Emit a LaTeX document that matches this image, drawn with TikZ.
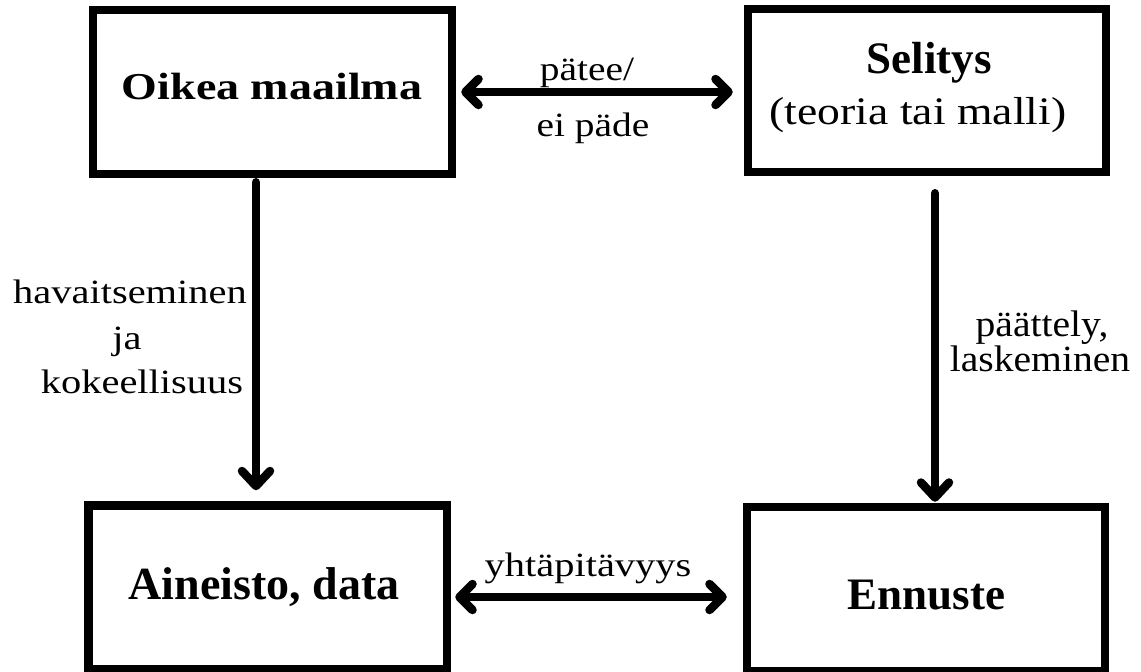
\documentclass[tikz,border=0pt]{standalone}
\usepackage{fontspec}
\setmainfont{Liberation Serif}
\usepackage{graphicx}
\usetikzlibrary{arrows.meta,calc}
\newcommand{\hs}[2]{\scalebox{#1}[1]{#2}}
\newcommand{\fs}[1]{\fontsize{#1}{#1}\selectfont}
\tikzset{
  box/.style={draw=black, line width=8.5pt, inner sep=0pt, minimum width=358pt, minimum height=164pt},
  txt/.style={anchor=base, inner sep=0pt, text=black},
  con/.style={draw=black, line width=8.5pt, line cap=round},
  harr/.style={con, arrows={Straight Barb[length=13pt,width=26pt,round]-Straight Barb[length=13pt,width=26pt,round]}},
  varr/.style={con, arrows={-Straight Barb[length=15pt,width=28pt,round]}}
}
\begin{document}
\begin{tikzpicture}[x=1pt,y=-1pt]
\path[use as bounding box, fill=white] (0,0) rectangle (1141,672);
% boxes
\node[box, minimum width=359pt] (o) at (272.5,92) {};
\node[box, minimum height=163pt] (s) at (927,90.5) {};
\node[box, minimum width=358.5pt] (a) at (267.75,587.5) {};
\node[box] (e) at (926,589) {};
% box texts
\node[txt] (ot) at (272,99) {\fs{38}\bfseries\hs{1.21}{Oikea maailma}};
\node[txt] (st1) at (929,73) {\fs{45}\bfseries Selitys};
\node[txt] (st2) at (918,124) {\fs{39}\hs{1.17}{(teoria tai malli)}};
\node[txt] (at) at (264,599) {\fs{46}\bfseries Aineisto, data};
\node[txt] (et) at (926.5,609) {\fs{45}\bfseries Ennuste};
% connectors
\draw[harr] ($(o.east)+(5,0)$) -- ($(s.west)+(-11,1.5)$);
\draw[harr] ($(a.east)+(4,9.5)$) -- ($(e.west)+(-16,8)$);
\draw[varr] ($(o.south)+(-16.5,4)$) -- ($(a.north)+(-11.75,-11)$);
\draw[varr] ($(s.south)+(8,17)$) -- ($(e.north)+(9,-1)$);
% connector labels
\node[txt] (l1a) at (587,80) {\fs{34}\hs{1.16}{pätee/}};
\node[txt] (l1b) at (593,136) {\fs{34}\hs{1.16}{ei päde}};
\node[txt] (l2a) at (130,303) {\fs{34}\hs{1.19}{havaitseminen}};
\node[txt] (l2b) at (127,349) {\fs{34}\hs{1.19}{ja}};
\node[txt] (l2c) at (142,393) {\fs{34}\hs{1.19}{kokeellisuus}};
\node[txt] (l3) at (588,576) {\fs{34}\hs{1.19}{yhtäpitävyys}};
\node[txt] (l4a) at (1042,336) {\fs{37}\hs{1.07}{päättely,}};
\node[txt] (l4b) at (1040,371) {\fs{37}\hs{1.07}{laskeminen}};
\end{tikzpicture}
\end{document}
